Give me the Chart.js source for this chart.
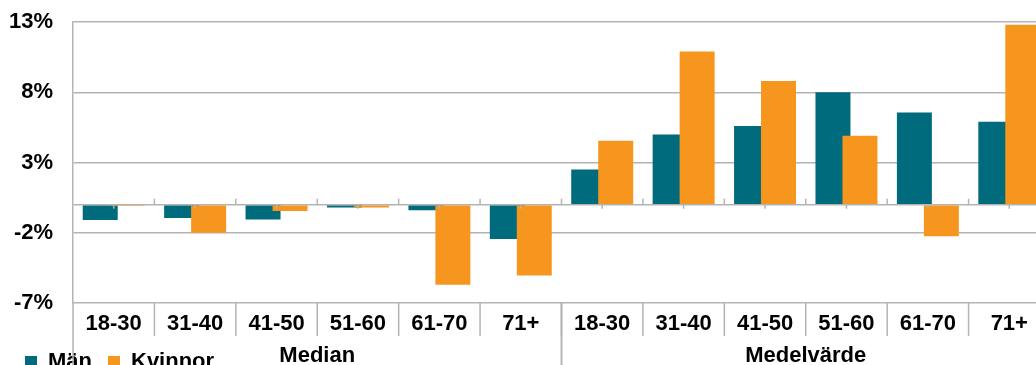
<!DOCTYPE html>
<html>
<head>
<meta charset="utf-8">
<script src="https://cdn.jsdelivr.net/npm/chart.js@4/dist/chart.umd.min.js"></script>
<style>
  html, body { margin: 0; padding: 0; background: #fff; overflow: hidden; }
  #wrap { width: 1050px; height: 383px; }
</style>
</head>
<body>
<div id="wrap"><canvas id="chart" width="1050" height="383"></canvas></div>
<script>
// --- Data ---
const ageGroups = ['18-30', '31-40', '41-50', '51-60', '61-70', '71+',
                   '18-30', '31-40', '41-50', '51-60', '61-70', '71+'];
const groupNames = ['Median', 'Medelvärde'];
const groupSizes = [6, 6];
const man = [-1.1, -0.95, -1.05, -0.2, -0.4, -2.45, 2.5, 5.0, 5.6, 8.0, 6.55, 5.9];
const kvinnor = [-0.1, -2.0, -0.45, -0.2, -5.7, -5.05, 4.55, 10.9, 8.8, 4.9, -2.25, 12.8];
const yTicks = [-7, -2, 3, 8, 13];

const FONT = { family: '"Liberation Sans", Arial, sans-serif', size: 22, weight: 'bold' };
const GRID = '#b4b4b4';

// --- Plugin: women on top, zero axis ticks, label separators, second label row ---
const groupAxis = {
    id: 'groupAxis',
    beforeDatasetDraw(chart, args) {
        if (args.index === 1 && !chart.$drawingTop) return false;
    },
    afterDatasetsDraw(chart) {
        chart.$drawingTop = true;
        chart.getDatasetMeta(1).controller.draw();
        chart.$drawingTop = false;

        const ctx = chart.ctx, x = chart.scales.x, y = chart.scales.y;
        const cw = x.width / ageGroups.length, y0 = y.getPixelForValue(0);
        ctx.save();
        ctx.strokeStyle = GRID; ctx.lineWidth = 1.5;
        ctx.beginPath();
        for (let i = 0; i < ageGroups.length; i++) {
            const c = x.getPixelForValue(i);
            if (i > 0) { ctx.moveTo(c - cw / 2, y0 - 6); ctx.lineTo(c - cw / 2, y0); }
            ctx.moveTo(c, y0); ctx.lineTo(c, y0 + 4);
        }
        ctx.stroke();
        ctx.restore();
    },
    afterDraw(chart) {
        const ctx = chart.ctx, x = chart.scales.x, area = chart.chartArea;
        const cw = x.width / ageGroups.length;
        ctx.save();
        ctx.strokeStyle = GRID; ctx.lineWidth = 1.5;
        ctx.fillStyle = '#000';
        ctx.font = 'bold 22px "Liberation Sans", Arial, sans-serif';
        ctx.textAlign = 'center'; ctx.textBaseline = 'middle';
        // first row separators
        ctx.beginPath();
        for (let i = 1; i < ageGroups.length; i++) {
            const b = x.getPixelForValue(i) - cw / 2;
            ctx.moveTo(b, area.bottom); ctx.lineTo(b, area.bottom + 33);
        }
        ctx.stroke();
        // second row
        let start = 0;
        groupNames.forEach((g, k) => {
            const left = x.getPixelForValue(start) - cw / 2;
            const right = x.getPixelForValue(start + groupSizes[k] - 1) + cw / 2;
            ctx.beginPath();
            ctx.moveTo(left, area.bottom); ctx.lineTo(left, chart.height);
            ctx.moveTo(right, area.bottom); ctx.lineTo(right, chart.height);
            ctx.stroke();
            ctx.fillText(g, (left + right) / 2, 356);
            start += groupSizes[k];
        });
        ctx.restore();
    }
};

// --- Chart ---
new Chart(document.getElementById('chart'), {
    type: 'bar',
    data: {
        labels: ageGroups,
        datasets: [
            { label: 'Män', data: man, backgroundColor: '#006b7c', borderWidth: 0 },
            { label: 'Kvinnor', data: kvinnor, backgroundColor: '#f7961f', borderWidth: 0 }
        ]
    },
    options: {
        responsive: false,
        animation: false,
        devicePixelRatio: 1,
        categoryPercentage: 0.663,
        barPercentage: 1.296,
        layout: { padding: { left: 9, top: 0, right: 0, bottom: 0 } },
        plugins: {
            tooltip: { enabled: false },
            legend: {
                position: 'bottom', align: 'start',
                labels: { font: FONT, color: '#000', boxWidth: 12, boxHeight: 12, padding: 16 }
            }
        },
        scales: {
            x: {
                offset: true,
                afterFit: s => { s.height = 32; },
                grid: { display: false },
                border: { display: false },
                ticks: { font: FONT, color: '#000', padding: 0, maxRotation: 0, autoSkip: false }
            },
            y: {
                min: -7, max: 13,
                afterBuildTicks: s => { s.ticks = yTicks.concat(0).sort((a, b) => a - b).map(v => ({ value: v })); },
                afterFit: s => { s.width = 64; s.paddingTop = 22; s.paddingBottom = 13; },
                grid: { color: GRID, lineWidth: 1.5, drawTicks: false },
                border: { display: true, color: GRID, width: 1.5 },
                ticks: { font: FONT, color: '#000', padding: 20, callback: v => v === 0 ? '' : v + '%' }
            }
        }
    },
    plugins: [groupAxis]
});
</script>
</body>
</html>
